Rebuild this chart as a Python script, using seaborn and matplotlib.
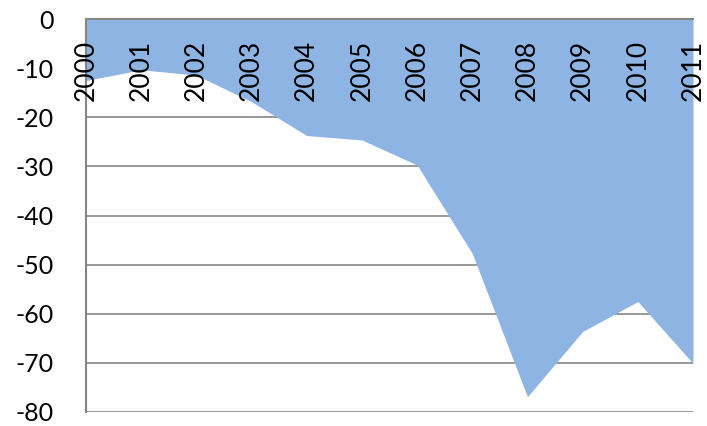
import numpy as np
import pandas as pd
import seaborn as sns
import matplotlib.pyplot as plt

# data
years = ['2000', '2001', '2002', '2003', '2004', '2005',
         '2006', '2007', '2008', '2009', '2010', '2011']
values = [-12.5, -10.3, -11.4, -16.8, -23.7, -24.6,
          -29.7, -47.7, -76.9, -63.6, -57.5, -70.1]
y_ticks = [0, -10, -20, -30, -40, -50, -60, -70, -80]

# colours
fill_blue = '#8EB4E3'
grid_grey = '#868686'

sns.set_style('white')
plt.rcParams['font.family'] = ['Lato', 'DejaVu Sans']
plt.rcParams['axes.unicode_minus'] = False

df = pd.DataFrame({'pos': np.arange(len(years)), 'value': values})

fig = plt.figure(figsize=(7.07, 4.26), dpi=100)
ax = fig.add_axes([0.1216, 0.033, 0.8586, 0.922])

# area from zero down to the values
sns.lineplot(data=df, x='pos', y='value', ax=ax, color=fill_blue, lw=0)
ax.fill_between(df['pos'], df['value'], 0, color=fill_blue, lw=0, zorder=2)

# gridlines under the area, category labels above it
ax.set_axisbelow(True)
ax.xaxis.set_zorder(4)
ax.set_ylim(-80, 0)
ax.set_yticks(y_ticks)
ax.yaxis.grid(True, color=grid_grey, lw=1.2)
ax.set_xlim(0, len(years) - 1)
ax.set_xticks(df['pos'])
ax.set_xticklabels(years)
ax.set_xlabel('')
ax.set_ylabel('')

# category labels at the top, inside the plot
ax.xaxis.set_ticks_position('top')
ax.tick_params(axis='x', labeltop=True, labelbottom=False, length=0,
               pad=-15, labelsize=19, rotation=90, labelcolor='black')
for lab in ax.get_xticklabels():
    lab.set_va('top')
ax.tick_params(axis='y', length=0, pad=23, labelsize=18, labelcolor='black')

# spines
for side in ['right', 'bottom']:
    ax.spines[side].set_visible(False)
ax.spines['top'].set_color(grid_grey)
ax.spines['top'].set_linewidth(1.5)
ax.spines['top'].set_zorder(3)
ax.spines['left'].set_color(grid_grey)
ax.spines['left'].set_linewidth(1.5)

fig.savefig('out.png', dpi=100)
